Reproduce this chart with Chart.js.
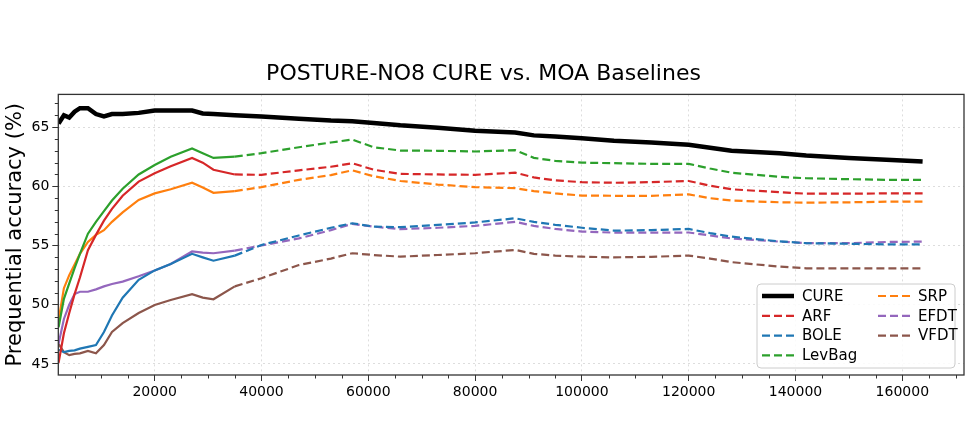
<!DOCTYPE html>
<html>
<head>
<meta charset="utf-8">
<script src="https://cdn.jsdelivr.net/npm/chart.js@4/dist/chart.umd.min.js"></script>
<style>
  body { margin: 0; background: #fff; }
</style>
</head>
<body>
<canvas id="grafica" width="971" height="422"></canvas>
<script>
//datos
var pasos = [2000, 3000, 4000, 5000, 6000, 7500, 9000, 10500, 12000, 14000, 17000, 20000, 23000, 27000, 29000, 31000, 35000, 40000, 47000, 53000, 57000, 61000, 66000, 73000, 80000, 87500, 91000, 95000, 100000, 106000, 113000, 120000, 124000, 128000, 137000, 142000, 150000, 157000, 163800];

var cure   = [65.3, 66.0, 65.8, 66.3, 66.6, 66.6, 66.1, 65.9, 66.1, 66.1, 66.2, 66.4, 66.4, 66.4, 66.15, 66.1, 66.0, 65.9, 65.7, 65.55, 65.5, 65.35, 65.15, 64.95, 64.7, 64.55, 64.3, 64.2, 64.05, 63.85, 63.7, 63.5, 63.25, 63.0, 62.8, 62.6, 62.4, 62.25, 62.1];
var arf    = [45.1, 47.6, 49.3, 50.9, 52.3, 54.6, 55.9, 57.1, 58.1, 59.2, 60.4, 61.1, 61.7, 62.4, 62.0, 61.4, 61.0, 60.97, 61.35, 61.65, 61.95, 61.4, 61.05, 61.0, 60.97, 61.15, 60.75, 60.5, 60.35, 60.3, 60.35, 60.45, 60.05, 59.75, 59.5, 59.38, 59.38, 59.4, 59.4];
var bole   = [46.2, 46.0, 46.1, 46.15, 46.3, 46.45, 46.6, 47.7, 49.1, 50.6, 52.1, 52.9, 53.45, 54.3, 54.0, 53.72, 54.15, 55.05, 55.85, 56.5, 56.88, 56.6, 56.55, 56.75, 56.95, 57.3, 57.0, 56.75, 56.5, 56.26, 56.3, 56.4, 56.05, 55.75, 55.35, 55.2, 55.15, 55.1, 55.1];
var levbag = [48.1, 50.5, 51.8, 53.1, 54.3, 56.0, 57.0, 57.9, 58.8, 59.8, 61.0, 61.8, 62.5, 63.2, 62.8, 62.4, 62.5, 62.8, 63.3, 63.7, 63.95, 63.3, 63.02, 63.0, 62.94, 63.05, 62.4, 62.15, 62.0, 61.95, 61.9, 61.9, 61.5, 61.15, 60.8, 60.68, 60.6, 60.55, 60.55];
var srp    = [48.7, 51.4, 52.5, 53.4, 54.3, 55.3, 55.9, 56.3, 57.0, 57.8, 58.85, 59.4, 59.75, 60.3, 59.9, 59.45, 59.6, 59.93, 60.55, 60.95, 61.35, 60.85, 60.45, 60.15, 59.93, 59.84, 59.6, 59.4, 59.22, 59.2, 59.2, 59.32, 59.0, 58.8, 58.65, 58.62, 58.65, 58.7, 58.7];
var efdt   = [46.7, 48.8, 50.0, 50.9, 51.1, 51.1, 51.3, 51.55, 51.75, 51.95, 52.4, 52.9, 53.45, 54.5, 54.4, 54.35, 54.57, 55.0, 55.6, 56.3, 56.83, 56.6, 56.38, 56.5, 56.66, 57.0, 56.66, 56.4, 56.18, 56.09, 56.09, 56.1, 55.85, 55.6, 55.33, 55.2, 55.2, 55.3, 55.33];
var vfdt   = [46.7, 46.0, 45.75, 45.85, 45.9, 46.1, 45.9, 46.6, 47.7, 48.45, 49.3, 49.98, 50.4, 50.9, 50.6, 50.46, 51.55, 52.24, 53.35, 53.9, 54.35, 54.2, 54.06, 54.2, 54.35, 54.63, 54.3, 54.15, 54.06, 54.0, 54.05, 54.15, 53.9, 53.6, 53.22, 53.08, 53.08, 53.08, 53.08];

var ticksX = [20000, 40000, 60000, 80000, 100000, 120000, 140000, 160000];
var ticksY = [45, 50, 55, 60, 65];

var fuente = 'DejaVu Sans, sans-serif';

// al inicio los puntos son tan densos que la linea discontinua se ve continua
var corteSolido = 38000;

function serie ( nombre, valores, color, ancho, guion )
{
  return {
    label: nombre,
    data: pasos.map( ( p, i ) => ( { x: p, y: valores[ i ] } ) ),
    borderColor: color,
    backgroundColor: color,
    borderWidth: ancho,
    borderDash: guion,
    pointRadius: 0,
    tension: 0,
    fill: false,
    segment: { borderDash: ctx => ctx.p1.parsed.x <= corteSolido ? [] : guion },
  };
}

var datasets = [
  serie( 'CURE', cure, '#000000', 4.5, [] ),
  serie( 'ARF', arf, '#d62728', 2.2, [8, 4] ),
  serie( 'BOLE', bole, '#1f77b4', 2.2, [8, 4] ),
  serie( 'LevBag', levbag, '#2ca02c', 2.2, [8, 4] ),
  serie( 'SRP', srp, '#ff7f0e', 2.2, [8, 4] ),
  serie( 'EFDT', efdt, '#9467bd', 2.2, [8, 4] ),
  serie( 'VFDT', vfdt, '#8c564b', 2.2, [8, 4] ),
];

//marco, ticks menores y leyenda
var extras = {
  id: 'extras',
  afterDatasetsDraw( chart )
  {
    var ctx = chart.ctx;
    var a = chart.chartArea;
    var sx = chart.scales.x;
    var sy = chart.scales.y;

    ctx.save();
    ctx.strokeStyle = '#333333';
    ctx.lineWidth = 1;
    for ( var v = 5000; v < sx.max; v += 5000 )
    {
      if ( v % 20000 == 0 || v < sx.min ) continue;
      var px = Math.round( sx.getPixelForValue( v ) ) + 0.5;
      ctx.beginPath( );
      ctx.moveTo( px, a.bottom );
      ctx.lineTo( px, a.bottom + 3.5 );
      ctx.stroke( );
    }
    for ( var w = 45; w < sy.max; w += 1 )
    {
      if ( w % 5 == 0 ) continue;
      var py = Math.round( sy.getPixelForValue( w ) ) + 0.5;
      ctx.beginPath( );
      ctx.moveTo( a.left, py );
      ctx.lineTo( a.left - 3.5, py );
      ctx.stroke( );
    }

    //marco
    ctx.lineWidth = 1.3;
    ctx.strokeStyle = '#333333';
    ctx.strokeRect( a.left, a.top, a.right - a.left, a.bottom - a.top );

    //leyenda
    var lx = a.right - 207;
    var ly = a.bottom - 91;
    var lw = 198;
    var lh = 84;
    ctx.beginPath( );
    ctx.roundRect( lx, ly, lw, lh, 4 );
    ctx.fillStyle = 'rgba(255,255,255,0.85)';
    ctx.fill( );
    ctx.strokeStyle = '#cccccc';
    ctx.lineWidth = 1;
    ctx.stroke( );

    ctx.font = '15px ' + fuente;
    ctx.textBaseline = 'middle';
    ctx.textAlign = 'left';
    chart.data.datasets.forEach( ( d, i ) =>
    {
      var col = i < 4 ? 0 : 1;
      var fila = i < 4 ? i : i - 4;
      var x0 = lx + 5 + col * 116;
      var y0 = ly + 12 + fila * 19.8;
      ctx.beginPath( );
      ctx.strokeStyle = d.borderColor;
      ctx.lineWidth = d.borderWidth;
      ctx.setLineDash( d.borderDash );
      ctx.moveTo( x0, y0 );
      ctx.lineTo( x0 + 32, y0 );
      ctx.stroke( );
      ctx.setLineDash( [] );
      ctx.fillStyle = '#000000';
      ctx.fillText( d.label, x0 + 40, y0 + 1 );
    });
    ctx.restore( );
  }
};

var chart = new Chart( document.getElementById( 'grafica' ).getContext( '2d' ),
{
  type: 'line',
  data: { datasets: datasets },
  plugins: [ extras ],
  options:
  {
    responsive: false,
    animation: false,
    layout: { padding: { left: 3, right: 7, top: 0, bottom: 0 } },
    plugins:
    {
      legend: { display: false },
      tooltip: { enabled: false },
      title:
      {
        display: true,
        text: 'POSTURE-NO8 CURE vs. MOA Baselines',
        color: '#000000',
        font: { family: fuente, size: 22, weight: 'normal' },
        padding: { top: 61, bottom: 7 },
      },
    },
    scales:
    {
      x:
      {
        type: 'linear',
        min: 1950,
        max: 171550,
        afterFit: s => { s.height = 47; },
        afterBuildTicks: s => { s.ticks = ticksX.map( v => ( { value: v } ) ); },
        border: { display: false, dash: [2, 3] },
        grid: { color: '#d4d4d4', lineWidth: 0.8, tickColor: '#333333', tickLength: 6, tickWidth: 1, tickBorderDash: [] },
        ticks: { color: '#000000', font: { family: fuente, size: 14 }, padding: 3, maxRotation: 0, autoSkip: false, callback: v => String( v ) },
      },
      y:
      {
        type: 'linear',
        min: 44.07,
        max: 67.76,
        afterFit: s => { s.width = 55.3; },
        afterBuildTicks: s => { s.ticks = ticksY.map( v => ( { value: v } ) ); },
        border: { display: false, dash: [2, 3] },
        grid: { color: '#d4d4d4', lineWidth: 0.8, tickColor: '#333333', tickLength: 6, tickWidth: 1, tickBorderDash: [] },
        ticks: { color: '#000000', font: { family: fuente, size: 14 }, padding: 3, callback: v => String( v ) },
        title:
        {
          display: true,
          text: 'Prequential accuracy (%)',
          color: '#000000',
          font: { family: fuente, size: 21 },
          padding: { top: 0, bottom: 0 },
        },
      },
    },
  },
});
</script>
</body>
</html>
